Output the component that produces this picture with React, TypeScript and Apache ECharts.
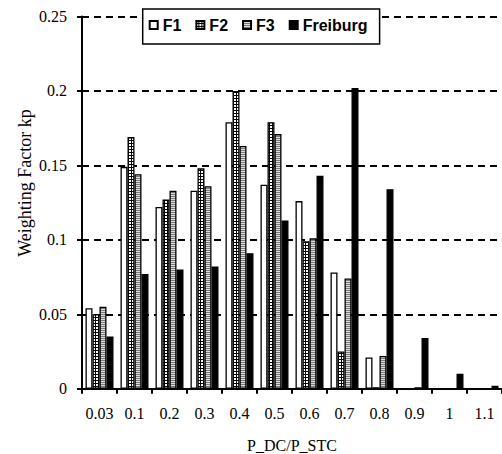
import React, { useEffect, useRef } from "react";
import * as echarts from "echarts";

const categories = ["0.03", "0.1", "0.2", "0.3", "0.4", "0.5", "0.6", "0.7", "0.8", "0.9", "1", "1.1"];
const f1 = [0.054, 0.149, 0.122, 0.133, 0.179, 0.137, 0.126, 0.078, 0.021, 0, 0, 0];
const f2 = [0.050, 0.169, 0.127, 0.148, 0.200, 0.179, 0.099, 0.025, 0.001, 0, 0, 0];
const f3 = [0.055, 0.144, 0.133, 0.136, 0.163, 0.171, 0.101, 0.074, 0.022, 0.001, 0, 0];
const freiburg = [0.035, 0.077, 0.080, 0.082, 0.091, 0.113, 0.143, 0.202, 0.134, 0.034, 0.010, 0.002];
const yTicks = [0, 0.05, 0.1, 0.15, 0.2, 0.25];

function makeChecker(): HTMLCanvasElement {
  const c = document.createElement("canvas");
  c.width = 3;
  c.height = 3;
  const ctx = c.getContext("2d")!;
  ctx.fillStyle = "#000";
  ctx.fillRect(0, 0, 3, 3);
  ctx.fillStyle = "#fff";
  ctx.fillRect(0, 0, 2, 2);
  return c;
}

function makeStripes(): HTMLCanvasElement {
  const c = document.createElement("canvas");
  c.width = 2;
  c.height = 2;
  const ctx = c.getContext("2d")!;
  ctx.fillStyle = "#dcdcdc";
  ctx.fillRect(0, 0, 2, 2);
  ctx.fillStyle = "#7a7a7a";
  ctx.fillRect(0, 0, 2, 1);
  return c;
}

export default function App() {
  const ref = useRef<HTMLDivElement>(null);
  useEffect(() => {
    if (!ref.current) return;
    const chart = echarts.init(ref.current, undefined, { renderer: "svg" });
    const checker = { image: makeChecker(), repeat: "repeat" } as any;
    const stripes = { image: makeStripes(), repeat: "repeat" } as any;
    const serif = "Liberation Serif";
    const barCommon = {
      type: "bar" as const,
      barGap: "0%",
      barCategoryGap: "20%",
    };
    chart.setOption({
      animation: false,
      backgroundColor: "#fff",
      grid: { left: 82, right: 0, top: 16.5, bottom: 65.3, containLabel: false, outerBoundsMode: "none" },
      legend: {
        left: 142.7,
        top: 9,
        padding: [8, 12, 11, 6],
        itemGap: 14,
        itemWidth: 8,
        itemHeight: 8,
        icon: "rect",
        backgroundColor: "#fff",
        borderColor: "#000",
        borderWidth: 1.5,
        textStyle: { fontFamily: "Liberation Sans", fontWeight: "bold", fontSize: 16, color: "#000" },
        data: ["F1", "F2", "F3", "Freiburg"],
      },
      xAxis: {
        type: "category",
        data: categories,
        boundaryGap: true,
        axisLine: { lineStyle: { color: "#000", width: 2 } },
        axisTick: { show: true, length: 5, alignWithLabel: false, lineStyle: { color: "#000", width: 2 } },
        axisLabel: { color: "#000", fontFamily: serif, fontSize: 16, margin: 17, interval: 0 },
        name: "P_DC/P_STC",
        nameLocation: "middle",
        nameGap: 49,
        nameTextStyle: { color: "#000", fontFamily: serif, fontSize: 16 },
        splitLine: { show: false },
      },
      yAxis: {
        type: "value",
        min: yTicks[0],
        max: yTicks[yTicks.length - 1],
        interval: 0.05,
        axisLine: { show: true, lineStyle: { color: "#000", width: 2 } },
        axisTick: { show: true, length: 5, lineStyle: { color: "#000", width: 2 } },
        axisLabel: { color: "#000", fontFamily: serif, fontSize: 16, margin: 15 },
        splitLine: { show: true, lineStyle: { color: "#000", width: 2, type: [7, 5] } },
      },
      graphic: [
        {
          type: "text",
          x: 25,
          y: 183,
          rotation: Math.PI / 2,
          style: {
            text: "Weighting Factor kp",
            fontFamily: serif,
            fontSize: 18,
            fill: "#000",
            align: "center",
            verticalAlign: "middle",
          },
        },
      ],
      series: [
        { ...barCommon, name: "F1", data: f1, itemStyle: { color: "#fff", borderColor: "#000", borderWidth: 1.3 } },
        { ...barCommon, name: "F2", data: f2, itemStyle: { color: checker, borderColor: "#000", borderWidth: 1.3 } },
        { ...barCommon, name: "F3", data: f3, itemStyle: { color: stripes, borderColor: "#000", borderWidth: 1.3 } },
        { ...barCommon, name: "Freiburg", data: freiburg, itemStyle: { color: "#000", borderColor: "#000", borderWidth: 1.3 } },
      ],
    });
    return () => chart.dispose();
  }, []);
  return <div ref={ref} style={{ width: 502, height: 454, position: "absolute", left: 0, top: 0 }} />;
}
